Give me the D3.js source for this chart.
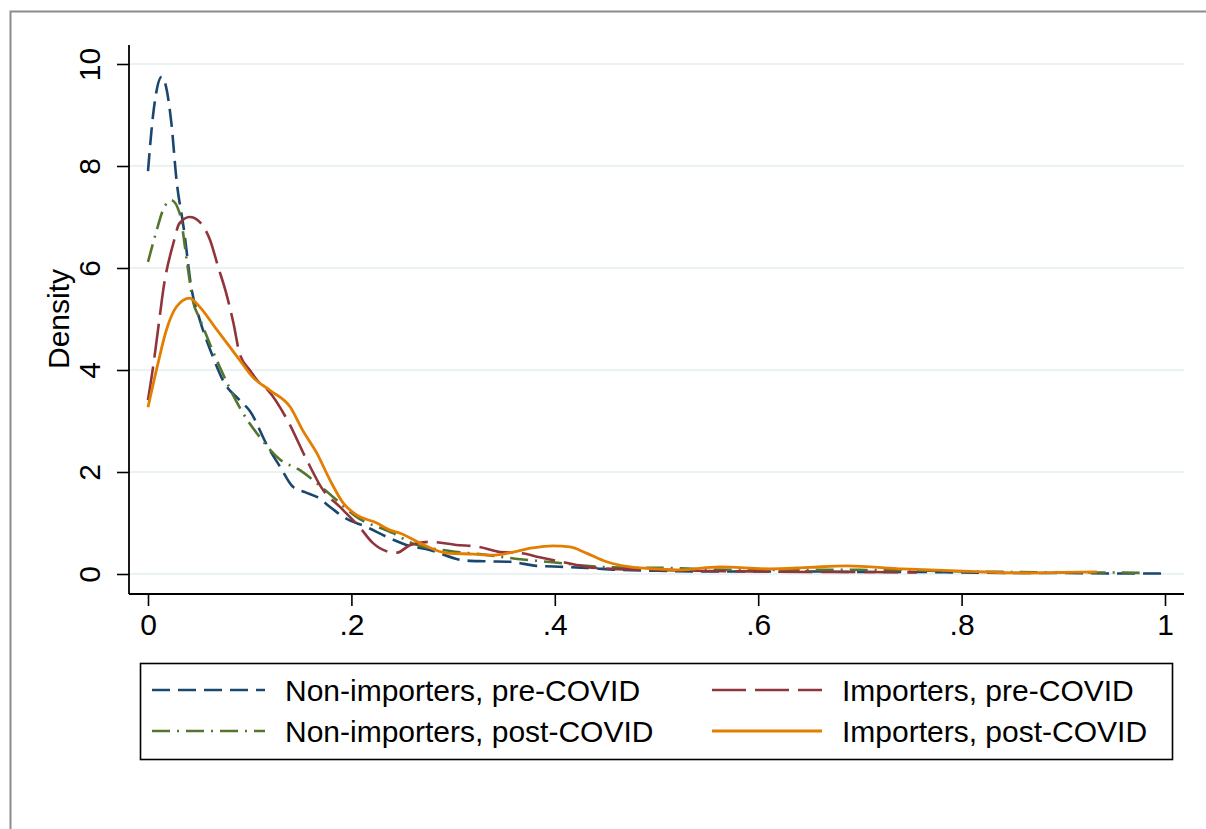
<!DOCTYPE html>
<html>
<head>
<meta charset="utf-8">
<script src="https://cdn.jsdelivr.net/npm/d3@7"></script>
<style>
  html, body { margin: 0; padding: 0; background: #fff; }
  svg { display: block; font-family: "Liberation Sans", Arial, sans-serif; }
</style>
</head>
<body>
<svg id="chart" width="1206" height="829"></svg>
<script>
// Kernel density estimates of the share, by importer status and period
const xTicks = [0, 0.2, 0.4, 0.6, 0.8, 1];
const xTickLabels = ["0", ".2", ".4", ".6", ".8", "1"];
const yTicks = [0, 2, 4, 6, 8, 10];
const yTickLabels = ["0", "2", "4", "6", "8", "10"];

const seriesNames = [
  "Non-importers, pre-COVID",
  "Importers, pre-COVID",
  "Non-importers, post-COVID",
  "Importers, post-COVID"
];

// Non-importers, pre-COVID
const nonPreX = [0, 0.005, 0.0135, 0.023, 0.028, 0.035, 0.043, 0.051, 0.064, 0.075, 0.09, 0.1, 0.118, 0.13, 0.1425, 0.155, 0.166, 0.18, 0.192, 0.215, 0.238, 0.254, 0.277, 0.31, 0.33, 0.356, 0.382, 0.408, 0.431, 0.464, 0.51, 0.55, 0.6, 0.65, 0.7, 0.75, 0.8, 0.85, 0.9, 0.95, 1.0];
const nonPreY = [7.9, 9.0, 9.75, 8.84, 7.73, 6.8, 5.57, 4.98, 4.25, 3.75, 3.41, 3.2, 2.49, 2.1, 1.71, 1.6, 1.51, 1.3, 1.12, 0.92, 0.7, 0.57, 0.47, 0.27, 0.25, 0.24, 0.16, 0.14, 0.12, 0.08, 0.06, 0.05, 0.05, 0.05, 0.04, 0.04, 0.03, 0.02, 0.02, 0.01, 0.01];

// Importers, pre-COVID
const impPreX = [0, 0.005, 0.012, 0.015, 0.025, 0.031, 0.041, 0.051, 0.061, 0.069, 0.076, 0.084, 0.09, 0.1, 0.11, 0.118, 0.137, 0.156, 0.172, 0.189, 0.208, 0.221, 0.238, 0.245, 0.258, 0.277, 0.303, 0.326, 0.346, 0.366, 0.385, 0.411, 0.431, 0.457, 0.5, 0.55, 0.6, 0.65, 0.7, 0.756];
const impPreY = [3.41, 4.06, 5.12, 5.57, 6.49, 6.88, 7.0, 6.9, 6.55, 6.02, 5.57, 4.92, 4.33, 4.0, 3.74, 3.6, 3.02, 2.24, 1.65, 1.31, 0.92, 0.61, 0.43, 0.42, 0.57, 0.63, 0.57, 0.53, 0.43, 0.41, 0.33, 0.22, 0.14, 0.1, 0.08, 0.06, 0.05, 0.04, 0.04, 0.03];

// Non-importers, post-COVID
const nonPostX = [0, 0.008, 0.015, 0.023, 0.031, 0.039, 0.044, 0.051, 0.058, 0.071, 0.09, 0.1, 0.107, 0.13, 0.149, 0.166, 0.182, 0.205, 0.241, 0.26, 0.297, 0.326, 0.366, 0.398, 0.431, 0.477, 0.506, 0.55, 0.6, 0.65, 0.7, 0.75, 0.8, 0.85, 0.9, 0.95, 0.978];
const nonPostY = [6.12, 6.7, 7.15, 7.33, 7.08, 6.02, 5.37, 5.0, 4.65, 4.04, 3.27, 2.95, 2.76, 2.24, 2.04, 1.78, 1.51, 1.12, 0.8, 0.6, 0.45, 0.39, 0.29, 0.23, 0.16, 0.12, 0.12, 0.09, 0.08, 0.08, 0.08, 0.07, 0.05, 0.04, 0.03, 0.03, 0.02];

// Importers, post-COVID
const impPostX = [0, 0.009, 0.018, 0.028, 0.041, 0.048, 0.068, 0.09, 0.103, 0.12, 0.14, 0.152, 0.166, 0.179, 0.192, 0.205, 0.225, 0.238, 0.248, 0.267, 0.294, 0.32, 0.339, 0.359, 0.378, 0.398, 0.415, 0.431, 0.451, 0.474, 0.5, 0.523, 0.562, 0.611, 0.65, 0.687, 0.742, 0.808, 0.86, 0.9, 0.933];
const impPostY = [3.27, 4.06, 4.78, 5.24, 5.41, 5.3, 4.78, 4.2, 3.86, 3.6, 3.27, 2.82, 2.37, 1.84, 1.39, 1.16, 1.0, 0.86, 0.8, 0.61, 0.41, 0.39, 0.37, 0.43, 0.51, 0.55, 0.53, 0.41, 0.24, 0.14, 0.1, 0.08, 0.14, 0.1, 0.13, 0.16, 0.1, 0.05, 0.02, 0.03, 0.04];

const svg = d3.select("#chart");

// outer graph frame
svg.append("path")
  .attr("d", "M10.5,829V11.5H1206")
  .attr("fill", "none")
  .attr("stroke", "#8c8c8c")
  .attr("stroke-width", 2);

const x = d3.scaleLinear().domain([0, 1]).range([148, 1165]);
const y = d3.scaleLinear().domain([0, 10]).range([574, 64]);

const plotLeft = 129, plotRight = 1184, plotTop = 45, plotBottom = 594;

// horizontal gridlines
svg.append("g")
  .selectAll("line")
  .data(yTicks)
  .join("line")
  .attr("x1", plotLeft)
  .attr("x2", plotRight)
  .attr("y1", d => y(d))
  .attr("y2", d => y(d))
  .attr("stroke", "#eaf2f3")
  .attr("stroke-width", 2);

// density curves
const styles = [
  { xs: nonPreX, ys: nonPreY, color: "#1a476f", dash: "18,8", width: 2.6 },
  { xs: impPreX, ys: impPreY, color: "#90353b", dash: "34,9", width: 2.6 },
  { xs: nonPostX, ys: nonPostY, color: "#55752f", dash: "18,7,2,7", width: 2.6 },
  { xs: impPostX, ys: impPostY, color: "#e37e00", dash: null, width: 2.8 }
];

const line = d3.line()
  .x(d => x(d[0]))
  .y(d => y(d[1]))
  .curve(d3.curveMonotoneX);

// draw so that the solid orange curve sits on top
const drawOrder = [0, 2, 1, 3];
drawOrder.forEach(i => {
  const s = styles[i];
  const pts = s.xs.map((v, k) => [v, s.ys[k]]);
  svg.append("path")
    .datum(pts)
    .attr("d", line)
    .attr("fill", "none")
    .attr("stroke", s.color)
    .attr("stroke-width", s.width)
    .attr("stroke-dasharray", s.dash)
    .attr("stroke-linejoin", "round");
});

// axes
const xAxis = d3.axisBottom(x)
  .tickValues(xTicks)
  .tickFormat((d, i) => xTickLabels[i])
  .tickSize(12);
const gx = svg.append("g").attr("transform", `translate(0,${plotBottom})`).call(xAxis);
gx.select(".domain").remove();
gx.selectAll(".tick line").attr("stroke", "#000").attr("stroke-width", 1.6);
gx.selectAll(".tick text")
  .attr("y", 41).attr("dy", 0)
  .attr("fill", "#000")
  .style("font-size", "30px")
  .style("font-family", "'Liberation Sans', Arial, sans-serif");

const yAxis = d3.axisLeft(y)
  .tickValues(yTicks)
  .tickFormat((d, i) => yTickLabels[i])
  .tickSize(12);
const gy = svg.append("g").attr("transform", `translate(${plotLeft},0)`).call(yAxis);
gy.select(".domain").remove();
gy.selectAll(".tick line").attr("stroke", "#000").attr("stroke-width", 1.6);
gy.selectAll(".tick text")
  .attr("transform", "rotate(-90)")
  .attr("x", 0).attr("y", -29).attr("dy", 0)
  .attr("text-anchor", "middle")
  .attr("fill", "#000")
  .style("font-size", "30px")
  .style("font-family", "'Liberation Sans', Arial, sans-serif");

// axis lines
svg.append("line")
  .attr("x1", plotLeft).attr("x2", plotRight)
  .attr("y1", plotBottom).attr("y2", plotBottom)
  .attr("stroke", "#000").attr("stroke-width", 1.8);
svg.append("line")
  .attr("x1", plotLeft).attr("x2", plotLeft)
  .attr("y1", plotTop).attr("y2", plotBottom)
  .attr("stroke", "#000").attr("stroke-width", 1.8);

// axis title
svg.append("text")
  .attr("transform", "translate(69,319) rotate(-90)")
  .attr("text-anchor", "middle")
  .style("font-size", "30px")
  .text("Density");

// legend
const legend = svg.append("g");
legend.append("rect")
  .attr("x", 140.5).attr("y", 663.5)
  .attr("width", 1032).attr("height", 96)
  .attr("fill", "#fff")
  .attr("stroke", "#000")
  .attr("stroke-width", 1.6);

const legendItems = [
  { s: 0, col: 0, row: 0 },
  { s: 1, col: 1, row: 0 },
  { s: 2, col: 0, row: 1 },
  { s: 3, col: 1, row: 1 }
];
const colSample = [[152, 265], [712, 822]];
const colText = [285, 842];
const rowY = [690, 731];

legendItems.forEach(it => {
  const s = styles[it.s];
  legend.append("line")
    .attr("x1", colSample[it.col][0]).attr("x2", colSample[it.col][1])
    .attr("y1", rowY[it.row]).attr("y2", rowY[it.row])
    .attr("stroke", s.color)
    .attr("stroke-width", s.width)
    .attr("stroke-dasharray", s.dash);
  legend.append("text")
    .attr("x", colText[it.col])
    .attr("y", rowY[it.row] + 11)
    .style("font-size", "30px")
    .text(seriesNames[it.s]);
});
</script>
</body>
</html>
